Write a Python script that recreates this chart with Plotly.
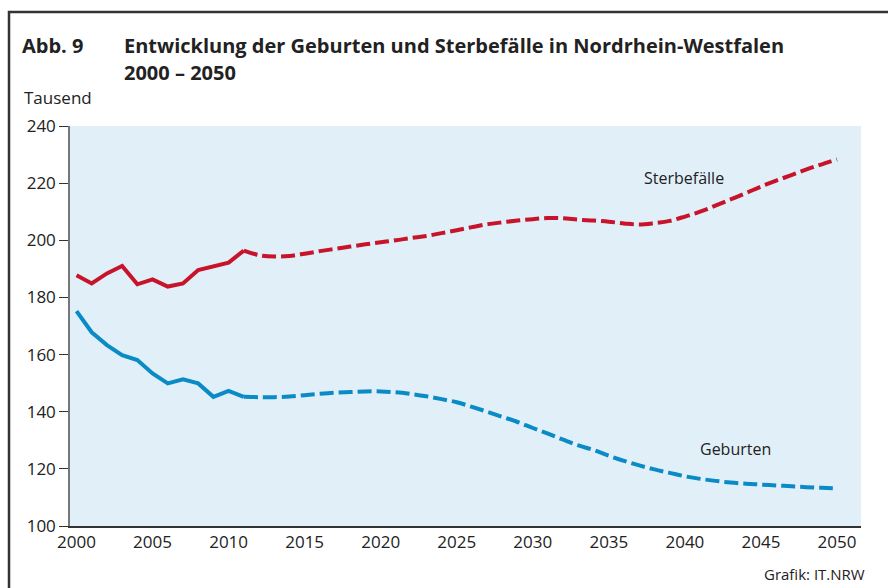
import plotly.graph_objects as go

# Jahre und Werte (in Tausend)
years = list(range(2000, 2051))

sterbefaelle = [
    187.8, 184.9, 188.4, 191.0, 184.6, 186.3, 183.8, 184.9, 189.6, 190.8,
    192.2, 196.4, 194.8, 194.3, 194.5, 195.3, 196.2, 197.0, 197.8, 198.6,
    199.3, 200.0, 200.8, 201.5, 202.5, 203.5, 204.6, 205.6, 206.3, 206.9,
    207.4, 207.8, 207.7, 207.2, 206.9, 206.5, 205.9, 205.5, 206.0, 206.8,
    208.3, 210.0, 212.1, 214.3, 216.5, 218.8, 220.9, 222.8, 224.8, 226.6,
    228.3,
]

geburten = [
    175.2, 167.8, 163.3, 159.8, 158.1, 153.4, 149.9, 151.3, 149.9, 145.2,
    147.3, 145.2, 145.1, 145.1, 145.3, 145.8, 146.3, 146.7, 146.9, 147.1,
    147.1, 146.8, 146.2, 145.4, 144.4, 143.3, 141.7, 140.0, 138.2, 136.4,
    134.3, 132.3, 130.2, 128.2, 126.6, 124.6, 122.8, 121.2, 119.8, 118.6,
    117.4, 116.5, 115.8, 115.2, 114.8, 114.5, 114.2, 113.9, 113.6, 113.4,
    113.2,
]

last_actual = 2011  # bis hier Ist-Werte, danach Vorausberechnung
x_ticks = list(range(2000, 2051, 5))
y_ticks = list(range(100, 241, 20))

RED = "#c8142a"
BLUE = "#0a8bc6"
FONT = "Open Sans"
TXT = "#222222"

W, H = 888, 588
# plot area in pixels: x 70..861, y 126..526
L, T, R, B = 70, 126, W - 861, H - 526
pw, ph = W - L - R, H - T - B


# pixel -> paper coords
def px(x):
    return (x - L) / pw


def py(y):
    return (H - B - y) / ph


i = years.index(last_actual)

fig = go.Figure()
for vals, color in [(sterbefaelle, RED), (geburten, BLUE)]:
    fig.add_trace(go.Scatter(
        x=years[: i + 1], y=vals[: i + 1], mode="lines",
        line=dict(color=color, width=4), hoverinfo="skip",
    ))
    fig.add_trace(go.Scatter(
        x=years[i:], y=vals[i:], mode="lines",
        line=dict(color=color, width=4, dash="14px,5px", shape="spline"),
        hoverinfo="skip",
    ))

fig.update_layout(
    width=W, height=H,
    margin=dict(l=L, r=R, t=T, b=B),
    paper_bgcolor="white",
    plot_bgcolor="#e1eff9",
    showlegend=False,
    font=dict(family=FONT, size=17, color=TXT),
    xaxis=dict(
        range=[2000 - 6.5 / 15.21, 2050 + 24 / 15.21],
        tickvals=x_ticks, ticks="", showgrid=False, zeroline=False,
        showline=True, linecolor="#333333", linewidth=1.5,
        tickfont=dict(size=17, color=TXT),
    ),
    yaxis=dict(
        range=[100, 240], tickvals=y_ticks, ticks="outside", ticklen=9,
        tickcolor="#333333", tickwidth=1.2, showgrid=False, zeroline=False,
        showline=True, linecolor="#777777", linewidth=1.5,
        tickfont=dict(size=17, color=TXT),
    ),
)

annos = [
    dict(x=20, y=45, text="<b>Abb. 9</b>", size=20),
    dict(x=122, y=45,
         text="<b>Entwicklung der Geburten und Sterbefälle in Nordrhein-Westfalen</b>",
         size=20),
    dict(x=122, y=73, text="<b>2000 – 2050</b>", size=20),
    dict(x=22, y=98, text="Tausend", size=17),
]
for a in annos:
    fig.add_annotation(
        x=px(a["x"]), y=py(a["y"]), xref="paper", yref="paper", text=a["text"],
        showarrow=False, xanchor="left", yanchor="middle",
        font=dict(family=FONT, size=a["size"], color=TXT),
    )

fig.add_annotation(x=px(867), y=py(574), xref="paper", yref="paper",
                   text="Grafik: IT.NRW", showarrow=False, xanchor="right",
                   yanchor="middle", font=dict(size=15, color=TXT))
fig.add_annotation(x=px(726), y=py(165), xref="paper", yref="paper",
                   text="Sterbefälle", showarrow=False,
                   font=dict(size=16, color=TXT))
fig.add_annotation(x=px(773), y=py(462), xref="paper", yref="paper",
                   text="Geburten", showarrow=False,
                   font=dict(size=16, color=TXT))

# Rahmen um die Grafik: nur links und oben sichtbar
fig.add_shape(type="path", xref="paper", yref="paper",
              path=f"M {px(9)},{py(600)} L {px(9)},{py(12)} L {px(900)},{py(12)}",
              line=dict(color="#333333", width=2.5))

# body margin weg, damit die Grafik bei (0, 0) beginnt
fig.write_html("out.html", config={"displayModeBar": False},
               post_script="document.body.style.margin='0';")
